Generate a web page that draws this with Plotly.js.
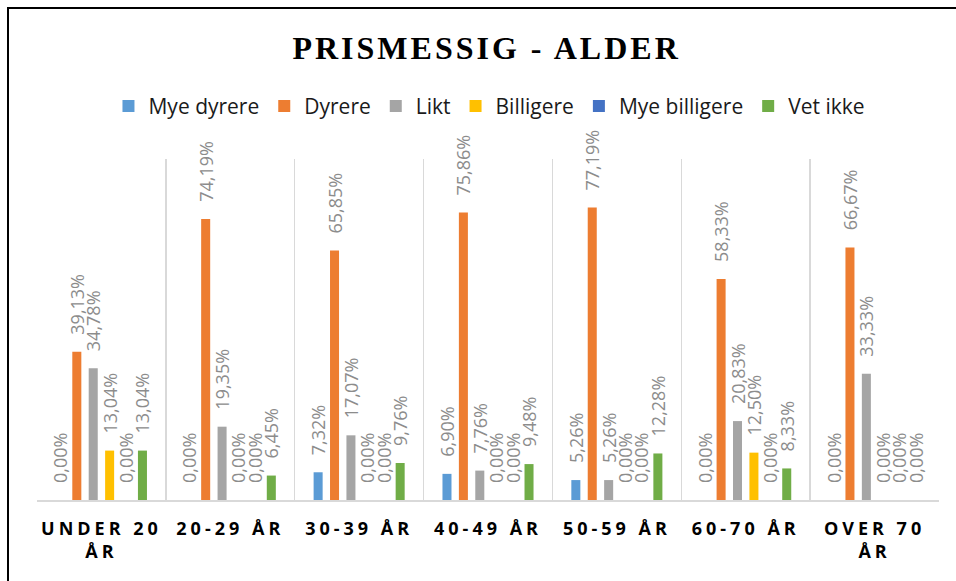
<!DOCTYPE html>
<html>
<head>
<meta charset="utf-8">
<script src="https://cdn.plot.ly/plotly-3.0.1.min.js"></script>
<style>
  body { margin: 0; background: #fff; }
  #wrap { position: relative; width: 956px; height: 581px; overflow: hidden; }
  #plot { width: 956px; height: 581px; }
  #frame {
    position: absolute; left: 7px; top: 7px; width: 1000px; height: 700px;
    border-left: 2px solid #000; border-top: 2px solid #000; pointer-events: none;
  }
  .gtitle { letter-spacing: 3px; }
  .xtick text { letter-spacing: 4px; }
</style>
</head>
<body>
<div id="wrap">
  <div id="plot"></div>
  <div id="frame"></div>
</div>
<script>
// age groups
const categories = ['UNDER 20<br>ÅR', '20-29 ÅR', '30-39 ÅR', '40-49 ÅR', '50-59 ÅR', '60-70 ÅR', 'OVER 70<br>ÅR'];

// shares in percent
const myeDyrere    = [0.00, 0.00, 7.32, 6.90, 5.26, 0.00, 0.00];
const dyrere       = [39.13, 74.19, 65.85, 75.86, 77.19, 58.33, 66.67];
const likt         = [34.78, 19.35, 17.07, 7.76, 5.26, 20.83, 33.33];
const billigere    = [13.04, 0.00, 0.00, 0.00, 0.00, 12.50, 0.00];
const myeBilligere = [0.00, 0.00, 0.00, 0.00, 0.00, 0.00, 0.00];
const vetIkke      = [13.04, 6.45, 9.76, 9.48, 12.28, 8.33, 0.00];

const seriesNames = ['Mye dyrere', 'Dyrere', 'Likt', 'Billigere', 'Mye billigere', 'Vet ikke'];
const seriesValues = [myeDyrere, dyrere, likt, billigere, myeBilligere, vetIkke];
const seriesColors = ['#5B9BD5', '#ED7D31', '#A5A5A5', '#FFC000', '#4472C4', '#70AD47'];

const data = seriesNames.map((name, i) => ({
    type: 'bar',
    name: name,
    x: categories,
    y: seriesValues[i],
    marker: { color: seriesColors[i] },
    texttemplate: '\u00A0\u00A0\u00A0%{y:.2f}%',
    textposition: 'outside',
    textangle: -90,
    constraintext: 'none',
    cliponaxis: false,
    textfont: { family: 'Open Sans', size: 18, color: '#8c8c8c' },
    hoverinfo: 'skip'
}));

const layout = {
    width: 956,
    height: 581,
    margin: { l: 37, r: 17, t: 159, b: 81 },
    paper_bgcolor: '#fff',
    plot_bgcolor: '#fff',
    separators: ', ',
    barmode: 'group',
    bargap: 0.236,
    bargroupgap: 0.45,
    title: {
        text: '<b>PRISMESSIG - ALDER</b>',
        font: { family: 'Liberation Serif', size: 32, color: '#000' },
        xref: 'container', x: 0.509, xanchor: 'center',
        yref: 'container', y: 0.918, yanchor: 'middle'
    },
    legend: {
        orientation: 'h',
        xref: 'container', x: 0.512, xanchor: 'center',
        yref: 'container', y: 0.817, yanchor: 'middle',
        font: { family: 'Open Sans', size: 21, color: '#1a1a1a' },
        traceorder: 'normal'
    },
    xaxis: {
        type: 'category',
        tickson: 'boundaries',
        showgrid: true,
        gridcolor: '#d9d9d9',
        gridwidth: 1.5,
        showline: true,
        linecolor: '#d9d9d9',
        linewidth: 2,
        ticks: '',
        ticklabelstandoff: 11,
        tickfont: { family: 'Open Sans', size: 18, color: '#000', weight: 'bold' },
        fixedrange: true
    },
    yaxis: {
        range: [0, 90],
        showgrid: false,
        zeroline: false,
        showticklabels: false,
        fixedrange: true
    },
    showlegend: true
};

Plotly.newPlot('plot', data, layout, { displayModeBar: false, staticPlot: true });
</script>
</body>
</html>
